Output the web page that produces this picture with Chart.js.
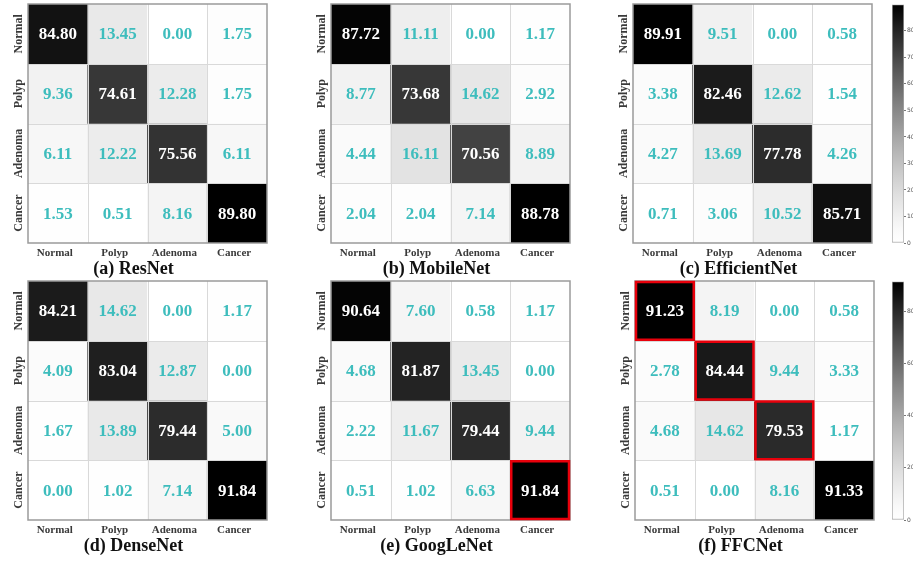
<!DOCTYPE html>
<html>
<head>
<meta charset="utf-8">
<script src="https://cdn.jsdelivr.net/npm/chart.js@4.4.0/dist/chart.umd.min.js"></script>
<style>
  html, body { margin: 0; padding: 0; background: #ffffff; overflow: hidden; width: 913px; height: 561px; }
  .box { position: absolute; }
  canvas { display: block; }
</style>
</head>
<body>
<div class="box" style="left:0px;top:0px"><canvas id="ca" width="295" height="280"></canvas></div>
<div class="box" style="left:303px;top:0px"><canvas id="cb" width="295" height="280"></canvas></div>
<div class="box" style="left:605px;top:0px"><canvas id="cc" width="295" height="280"></canvas></div>
<div class="box" style="left:0px;top:277px"><canvas id="cd" width="295" height="280"></canvas></div>
<div class="box" style="left:303px;top:277px"><canvas id="ce" width="295" height="280"></canvas></div>
<div class="box" style="left:607px;top:277px"><canvas id="cf" width="295" height="280"></canvas></div>
<div class="box" style="left:880px;top:0px"><canvas id="cbar1" width="60" height="280"></canvas></div>
<div class="box" style="left:880px;top:277px"><canvas id="cbar2" width="60" height="280"></canvas></div>
<script>
// ---------------- DATA ----------------
const classes = ['Normal', 'Polyp', 'Adenoma', 'Cancer'];

const resnet = [
  [84.80, 13.45, 0.00, 1.75],
  [9.36, 74.61, 12.28, 1.75],
  [6.11, 12.22, 75.56, 6.11],
  [1.53, 0.51, 8.16, 89.80]
];
const mobilenet = [
  [87.72, 11.11, 0.00, 1.17],
  [8.77, 73.68, 14.62, 2.92],
  [4.44, 16.11, 70.56, 8.89],
  [2.04, 2.04, 7.14, 88.78]
];
const efficientnet = [
  [89.91, 9.51, 0.00, 0.58],
  [3.38, 82.46, 12.62, 1.54],
  [4.27, 13.69, 77.78, 4.26],
  [0.71, 3.06, 10.52, 85.71]
];
const densenet = [
  [84.21, 14.62, 0.00, 1.17],
  [4.09, 83.04, 12.87, 0.00],
  [1.67, 13.89, 79.44, 5.00],
  [0.00, 1.02, 7.14, 91.84]
];
const googlenet = [
  [90.64, 7.60, 0.58, 1.17],
  [4.68, 81.87, 13.45, 0.00],
  [2.22, 11.67, 79.44, 9.44],
  [0.51, 1.02, 6.63, 91.84]
];
const ffcnet = [
  [91.23, 8.19, 0.00, 0.58],
  [2.78, 84.44, 9.44, 3.33],
  [4.68, 14.62, 79.53, 1.17],
  [0.51, 0.00, 8.16, 91.33]
];

const titles = ['(a) ResNet', '(b) MobileNet', '(c) EfficientNet', '(d) DenseNet', '(e) GoogLeNet', '(f) FFCNet'];
// highlighted cells [row, col]
const highlightsE = [[3, 3]];
const highlightsF = [[0, 0], [1, 1], [2, 2]];

const colorbarTicksTop = [0, 10, 20, 30, 40, 50, 60, 70, 80];
const colorbarTicksBottom = [0, 20, 40, 60, 80];

// ---------------- STYLE ----------------
const SERIF = "'Liberation Serif', 'Times New Roman', serif";
const TEAL = '#3ebdbd';
const LABEL_COLOR = '#3a3a3a';

function matMax(m) { return Math.max(...m.flat()); }
function shade(v, vmax) {
  const t = Math.max(0, Math.min(1, v / vmax));
  const g = Math.round(255 * (1 - Math.pow(t, 1.3)));
  return 'rgb(' + g + ',' + g + ',' + g + ')';
}

const cmPlugin = {
  id: 'cmPlugin',
  afterDatasetsDraw(chart) {
    const o = chart.options.plugins.cmPlugin;
    const m = o.matrix, vmax = matMax(m);
    const xs = chart.scales.x, ys = chart.scales.y;
    const ctx = chart.ctx;
    const ca = chart.chartArea;
    const n = m.length;
    const colEdge = (c) => {
      if (c <= 0) return ca.left;
      if (c >= n) return ca.right;
      return (xs.getPixelForValue(c - 1) + xs.getPixelForValue(c)) / 2;
    };
    const rowEdge = (r) => ys.getPixelForValue(r);
    ctx.save();
    // inner grid lines
    ctx.strokeStyle = '#d9d9d9';
    ctx.lineWidth = 1;
    ctx.beginPath();
    for (let i = 1; i < n; i++) {
      const x = Math.round(colEdge(i)) + 0.5;
      ctx.moveTo(x, ca.top); ctx.lineTo(x, ca.bottom);
      const y = Math.round(rowEdge(i)) + 0.5;
      ctx.moveTo(ca.left, y); ctx.lineTo(ca.right, y);
    }
    ctx.stroke();
    // outer border
    ctx.strokeStyle = '#9a9a9a';
    ctx.lineWidth = 1.5;
    ctx.strokeRect(ca.left, ca.top, ca.right - ca.left, ca.bottom - ca.top);
    // values
    ctx.textAlign = 'center';
    ctx.textBaseline = 'middle';
    ctx.font = 'bold 17px ' + SERIF;
    for (let r = 0; r < n; r++) {
      for (let c = 0; c < n; c++) {
        const v = m[r][c];
        ctx.fillStyle = v > vmax * 0.5 ? '#ffffff' : TEAL;
        ctx.fillText(v.toFixed(2), xs.getPixelForValue(c), ys.getPixelForValue(r + 0.5) + 1);
      }
    }
    // highlights
    ctx.strokeStyle = '#e8000b';
    ctx.lineWidth = 2.5;
    (o.highlights || []).forEach(([r, c]) => {
      const x0 = colEdge(c), x1 = colEdge(c + 1);
      const y0 = rowEdge(r), y1 = rowEdge(r + 1);
      ctx.strokeRect(x0 + 1, y0 + 1, x1 - x0 - 2, y1 - y0 - 2);
    });
    // row labels (rotated, reading bottom-to-top)
    ctx.fillStyle = LABEL_COLOR;
    ctx.font = 'bold 12px ' + SERIF;
    ctx.textAlign = 'center';
    ctx.textBaseline = 'bottom';
    classes.forEach((lab, r) => {
      ctx.save();
      ctx.translate(ca.left - 3, ys.getPixelForValue(r + 0.5));
      ctx.rotate(-Math.PI / 2);
      ctx.fillText(lab, 0, 0);
      ctx.restore();
    });
    ctx.restore();
  }
};

function makeMatrix(id, matrix, title, highlights) {
  const vmax = matMax(matrix);
  const datasets = matrix.map((row, r) => ({
    data: row.map(() => [r, r + 1]),
    backgroundColor: row.map(v => shade(v, vmax)),
    borderWidth: 0,
    grouped: false,
    barPercentage: 1.0,
    categoryPercentage: 1.0
  }));
  new Chart(document.getElementById(id), {
    type: 'bar',
    data: { labels: classes, datasets },
    plugins: [cmPlugin],
    options: {
      responsive: false,
      animation: false,
      devicePixelRatio: 1,
      layout: { padding: { left: 0, top: 4, right: 28, bottom: 0 } },
      scales: {
        x: {
          type: 'category',
          grid: { display: false, drawTicks: false },
          border: { display: false },
          ticks: {
            color: LABEL_COLOR,
            font: { family: SERIF, size: 11, weight: 'bold' },
            padding: 4,
            labelOffset: -3,
            maxRotation: 0, minRotation: 0
          },
          afterFit: (s) => { s.height = 15.4; }
        },
        y: {
          type: 'linear',
          min: 0, max: 4,
          reverse: true,
          grid: { display: false, drawTicks: false },
          border: { display: false },
          ticks: { display: false },
          afterFit: (s) => { s.width = 28; }
        }
      },
      plugins: {
        legend: { display: false },
        tooltip: { enabled: false },
        title: {
          display: true,
          position: 'bottom',
          text: title,
          color: '#111111',
          font: { family: SERIF, size: 18, weight: 'bold', lineHeight: 1.2 },
          padding: 0
        },
        cmPlugin: { matrix, highlights }
      }
    }
  });
}

function makeColorbar(id, matrix, tickValues) {
  const vmax = matMax(matrix);
  new Chart(document.getElementById(id), {
    type: 'bar',
    data: {
      labels: [''],
      datasets: [{
        data: [[0, vmax]],
        backgroundColor: (ctx) => {
          const ch = ctx.chart, ca = ch.chartArea;
          if (!ca) return '#888';
          const ys = ch.scales.y;
          const g = ch.ctx.createLinearGradient(0, ys.getPixelForValue(0), 0, ys.getPixelForValue(vmax));
          for (let i = 0; i <= 20; i++) g.addColorStop(i / 20, shade(vmax * i / 20, vmax));
          return g;
        },
        borderColor: '#a8a8a8',
        borderWidth: 1,
        borderSkipped: false,
        barPercentage: 1.0,
        categoryPercentage: 1.0
      }]
    },
    options: {
      responsive: false,
      animation: false,
      devicePixelRatio: 1,
      layout: { padding: { left: 12, top: 4, right: 0, bottom: 37 } },
      scales: {
        x: { display: false },
        y: {
          position: 'right',
          min: 0, max: vmax,
          grid: { drawOnChartArea: false, tickLength: 2, color: '#777' },
          border: { display: false },
          afterBuildTicks: (s) => { s.ticks = tickValues.map(v => ({ value: v })); },
          ticks: { color: '#555', font: { family: 'DejaVu Sans', size: 6 }, padding: 1 },
          afterFit: (s) => { s.width = 36; }
        }
      },
      plugins: { legend: { display: false }, tooltip: { enabled: false } }
    }
  });
}

makeMatrix('ca', resnet, titles[0], []);
makeMatrix('cb', mobilenet, titles[1], []);
makeMatrix('cc', efficientnet, titles[2], []);
makeMatrix('cd', densenet, titles[3], []);
makeMatrix('ce', googlenet, titles[4], highlightsE);
makeMatrix('cf', ffcnet, titles[5], highlightsF);
makeColorbar('cbar1', efficientnet, colorbarTicksTop);
makeColorbar('cbar2', ffcnet, colorbarTicksBottom);
</script>
</body>
</html>
